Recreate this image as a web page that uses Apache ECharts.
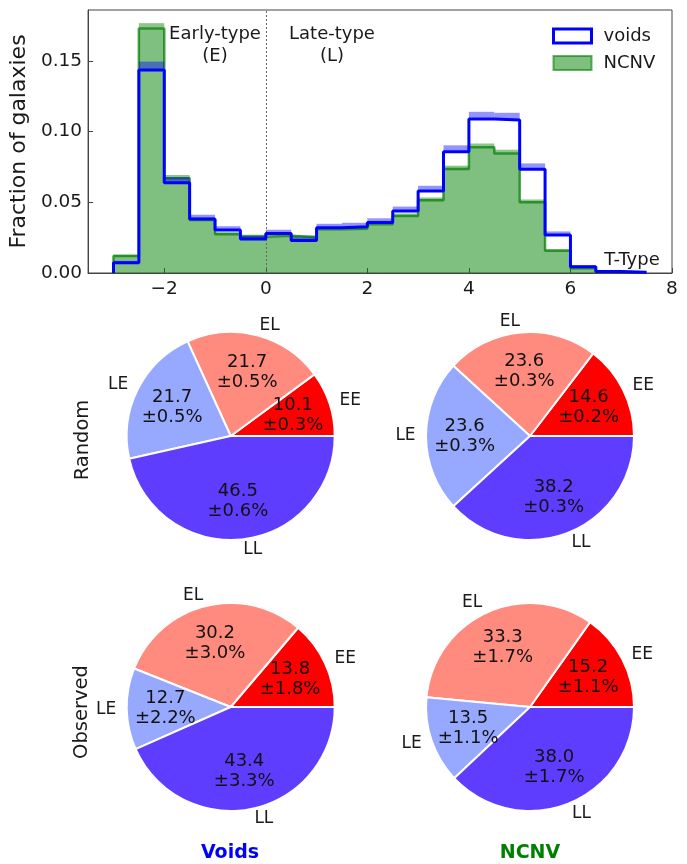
<!DOCTYPE html>
<html>
<head>
<meta charset="utf-8">
<script src="https://cdn.jsdelivr.net/npm/echarts@6/dist/echarts.min.js"></script>
<style>
  html, body { margin: 0; padding: 0; background: #fff; }
  #chart { width: 687px; height: 864px; }
</style>
</head>
<body>
<div id="chart"></div>
<script>
// T-type histogram: bins of width 0.5 starting at each value below
const binStarts = [-3, -2.5, -2, -1.5, -1, -0.5, 0, 0.5, 1, 1.5, 2, 2.5, 3, 3.5, 4, 4.5, 5, 5.5, 6, 6.5, 7];
const binWidth = 0.5;
const voidsFrac = [0.0073, 0.1436, 0.0639, 0.0382, 0.0304, 0.0240, 0.0280, 0.0229, 0.0320, 0.0327, 0.0358,
                   0.0438, 0.0580, 0.0858, 0.1089, 0.1082, 0.0733, 0.0269, 0.0045, 0.0010, 0.0005];
const voidsErr  = [0.0013, 0.0059, 0.0039, 0.0030, 0.0027, 0.0024, 0.0026, 0.0023, 0.0028, 0.0028, 0.0029,
                   0.0032, 0.0037, 0.0045, 0.0051, 0.0051, 0.0042, 0.0025, 0.0010, 0.0005, 0.0003];
const ncnvFrac  = [0.0120, 0.1730, 0.0670, 0.0375, 0.0274, 0.0257, 0.0264, 0.0252, 0.0310, 0.0313, 0.0344,
                   0.0403, 0.0514, 0.0735, 0.0889, 0.0846, 0.0500, 0.0158, 0.0033, 0, 0];
const ncnvErr   = [0.0010, 0.0037, 0.0023, 0.0017, 0.0015, 0.0014, 0.0015, 0.0014, 0.0016, 0.0016, 0.0017,
                   0.0018, 0.0020, 0.0024, 0.0027, 0.0026, 0.0020, 0.0011, 0.0005, 0, 0];
const xTicks = [-2, 0, 2, 4, 6, 8];
const yTicks = [0, 0.05, 0.10, 0.15];

// Morphology pairs (percentages and their uncertainties)
const pairNames = ['EE', 'EL', 'LE', 'LL'];
const pairColors = ['#ff0000', '#ff8a7e', '#97a9ff', '#5f3dff'];
const randomVoids = [10.1, 21.7, 21.7, 46.5];
const randomVoidsErr = [0.3, 0.5, 0.5, 0.6];
const randomNcnv = [14.6, 23.6, 23.6, 38.2];
const randomNcnvErr = [0.2, 0.3, 0.3, 0.3];
const observedVoids = [13.8, 30.2, 12.7, 43.4];
const observedVoidsErr = [1.8, 3.0, 2.2, 3.3];
const observedNcnv = [15.2, 33.3, 13.5, 38.0];
const observedNcnvErr = [1.1, 1.7, 1.1, 1.7];

const FONT = 'DejaVu Sans';
const TXT = '#1a1a1a';

function stepData(vals) {
  let n = vals.length;
  while (n > 0 && vals[n - 1] === 0) n--;
  const d = [[binStarts[0], 0]];
  for (let i = 0; i < n; i++) d.push([binStarts[i], vals[i]]);
  d.push([binStarts[n - 1] + binWidth, 0]);
  return d;
}

function bandSeries(name, vals, errs, color, z) {
  return {
    type: 'custom', name: name, silent: true, z: z,
    data: binStarts.map((x, i) => [x, x + binWidth, vals[i], vals[i] + errs[i]]),
    encode: { x: [0, 1], y: [2, 3] },
    renderItem: function (params, api) {
      const a = api.coord([api.value(0), api.value(3)]);
      const b = api.coord([api.value(1), api.value(2)]);
      return {
        type: 'rect',
        shape: { x: a[0], y: a[1], width: b[0] - a[0], height: b[1] - a[1] },
        style: { fill: color }
      };
    }
  };
}

function pieSeries(center, vals, errs) {
  const r = 104;
  const data = pairNames.map((n, i) => ({ name: n, value: vals[i], itemStyle: { color: pairColors[i] } }));
  return [
    {
      type: 'pie', center: center, radius: r, startAngle: 0, clockwise: false,
      avoidLabelOverlap: false, silent: true, animation: false,
      itemStyle: { borderColor: '#fff', borderWidth: 2 },
      label: { show: true, position: 'outside', formatter: '{b}', fontSize: 17, fontFamily: FONT, color: TXT,
               distanceToLabelLine: 0 },
      labelLine: { show: false, length: 10.4, length2: 0 },
      emphasis: { disabled: true },
      data: data
    },
    {
      type: 'pie', center: center, radius: [r * 0.2, r], startAngle: 0, clockwise: false,
      avoidLabelOverlap: false, silent: true, animation: false,
      itemStyle: { color: 'rgba(0,0,0,0)', borderWidth: 0 },
      label: {
        show: true, position: 'inside', fontSize: 18, fontFamily: FONT, color: '#111', lineHeight: 20,
        formatter: p => vals[p.dataIndex].toFixed(1) + '\n\u00b1' + errs[p.dataIndex].toFixed(1) + '%'
      },
      labelLine: { show: false },
      emphasis: { disabled: true },
      data: pairNames.map((n, i) => ({ name: n, value: vals[i] }))
    }
  ];
}

const chart = echarts.init(document.getElementById('chart'), null, { renderer: 'canvas' });

chart.setOption({
  animation: false,
  backgroundColor: '#fff',
  grid: { left: 88, top: 10, width: 584, height: 263, show: true, borderColor: '#444', borderWidth: 1 },
  xAxis: {
    type: 'value', min: -3.5, max: 8,
    axisLine: { show: true, onZero: false, lineStyle: { color: '#444', width: 1 } },
    axisTick: { show: true, inside: true, length: 5, customValues: xTicks, lineStyle: { color: '#444' } },
    axisLabel: { customValues: xTicks, fontSize: 18.5, fontFamily: FONT, color: TXT, margin: 7,
                 formatter: v => String(v).replace('-', '\u2212') },
    splitLine: { show: false }
  },
  yAxis: {
    type: 'value', min: 0, max: 0.186,
    name: 'Fraction of galaxies', nameLocation: 'middle', nameGap: 53, nameRotate: 90,
    nameTextStyle: { fontSize: 22, fontFamily: FONT, color: TXT },
    axisLine: { show: true, onZero: false, lineStyle: { color: '#444', width: 1 } },
    axisTick: { show: true, inside: true, length: 5, customValues: yTicks, lineStyle: { color: '#444' } },
    axisLabel: { customValues: yTicks, fontSize: 18.5, fontFamily: FONT, color: TXT, margin: 6,
                 formatter: v => v.toFixed(2) },
    splitLine: { show: false }
  },
  legend: {
    orient: 'vertical', left: 547, top: 22, itemWidth: 38, itemHeight: 14, itemGap: 9,
    selectedMode: false,
    textStyle: { fontSize: 18, fontFamily: FONT, color: TXT, lineHeight: 18, padding: [0, 0, 0, 7] },
    data: [
      { name: 'voids', icon: 'rect', itemStyle: { color: '#fff', borderColor: '#0000ff', borderWidth: 3 } },
      { name: 'NCNV', icon: 'rect', itemStyle: { color: 'rgba(0,128,0,0.5)', borderColor: 'rgba(0,128,0,0.6)', borderWidth: 2 } }
    ]
  },
  series: [
    {
      type: 'line', name: 'NCNV', step: 'end', showSymbol: false, silent: true, z: 2,
      data: stepData(ncnvFrac),
      lineStyle: { color: 'rgba(10,130,10,0.75)', width: 2.5 },
      itemStyle: { color: 'rgba(0,128,0,0.5)' },
      areaStyle: { color: 'rgba(0,128,0,0.5)', opacity: 1 },
      markLine: {
        silent: true, symbol: 'none', label: { show: false },
        lineStyle: { color: '#666', type: [2, 2], width: 1 },
        data: [{ xAxis: 0 }]
      }
    },
    bandSeries('ncnvBand', ncnvFrac, ncnvErr, 'rgba(0,128,0,0.45)', 3),
    bandSeries('voidsBand', voidsFrac, voidsErr, 'rgba(0,0,255,0.42)', 4),
    {
      type: 'line', name: 'voids', step: 'end', showSymbol: false, silent: true, z: 5,
      data: stepData(voidsFrac),
      lineStyle: { color: '#0000ff', width: 3 },
      itemStyle: { color: '#0000ff' }
    },
    ...pieSeries([230.7, 436], randomVoids, randomVoidsErr),
    ...pieSeries([530, 436], randomNcnv, randomNcnvErr),
    ...pieSeries([230.7, 707], observedVoids, observedVoidsErr),
    ...pieSeries([530, 707], observedNcnv, observedNcnvErr)
  ],
  graphic: [
    { type: 'text', x: 215, y: 45, style: { text: 'Early-type\n(E)', fill: TXT, fontSize: 18, fontFamily: FONT,
      align: 'center', verticalAlign: 'middle', lineHeight: 22 } },
    { type: 'text', x: 332, y: 45, style: { text: 'Late-type\n(L)', fill: TXT, fontSize: 18, fontFamily: FONT,
      align: 'center', verticalAlign: 'middle', lineHeight: 22 } },
    { type: 'text', x: 632, y: 260, style: { text: 'T-Type', fill: TXT, fontSize: 18, fontFamily: FONT,
      align: 'center', verticalAlign: 'middle' } },
    { type: 'text', x: 83, y: 440, rotation: Math.PI / 2, style: { text: 'Random', fill: TXT, fontSize: 19.5,
      fontFamily: FONT, align: 'center', verticalAlign: 'middle' } },
    { type: 'text', x: 82, y: 712, rotation: Math.PI / 2, style: { text: 'Observed', fill: TXT, fontSize: 19.5,
      fontFamily: FONT, align: 'center', verticalAlign: 'middle' } },
    { type: 'text', x: 230, y: 853, style: { text: 'Voids', fill: '#0000ff', fontSize: 19, fontWeight: 'bold',
      fontFamily: FONT, align: 'center', verticalAlign: 'middle' } },
    { type: 'text', x: 530, y: 853, style: { text: 'NCNV', fill: '#008000', fontSize: 19, fontWeight: 'bold',
      fontFamily: FONT, align: 'center', verticalAlign: 'middle' } }
  ]
});
</script>
</body>
</html>
